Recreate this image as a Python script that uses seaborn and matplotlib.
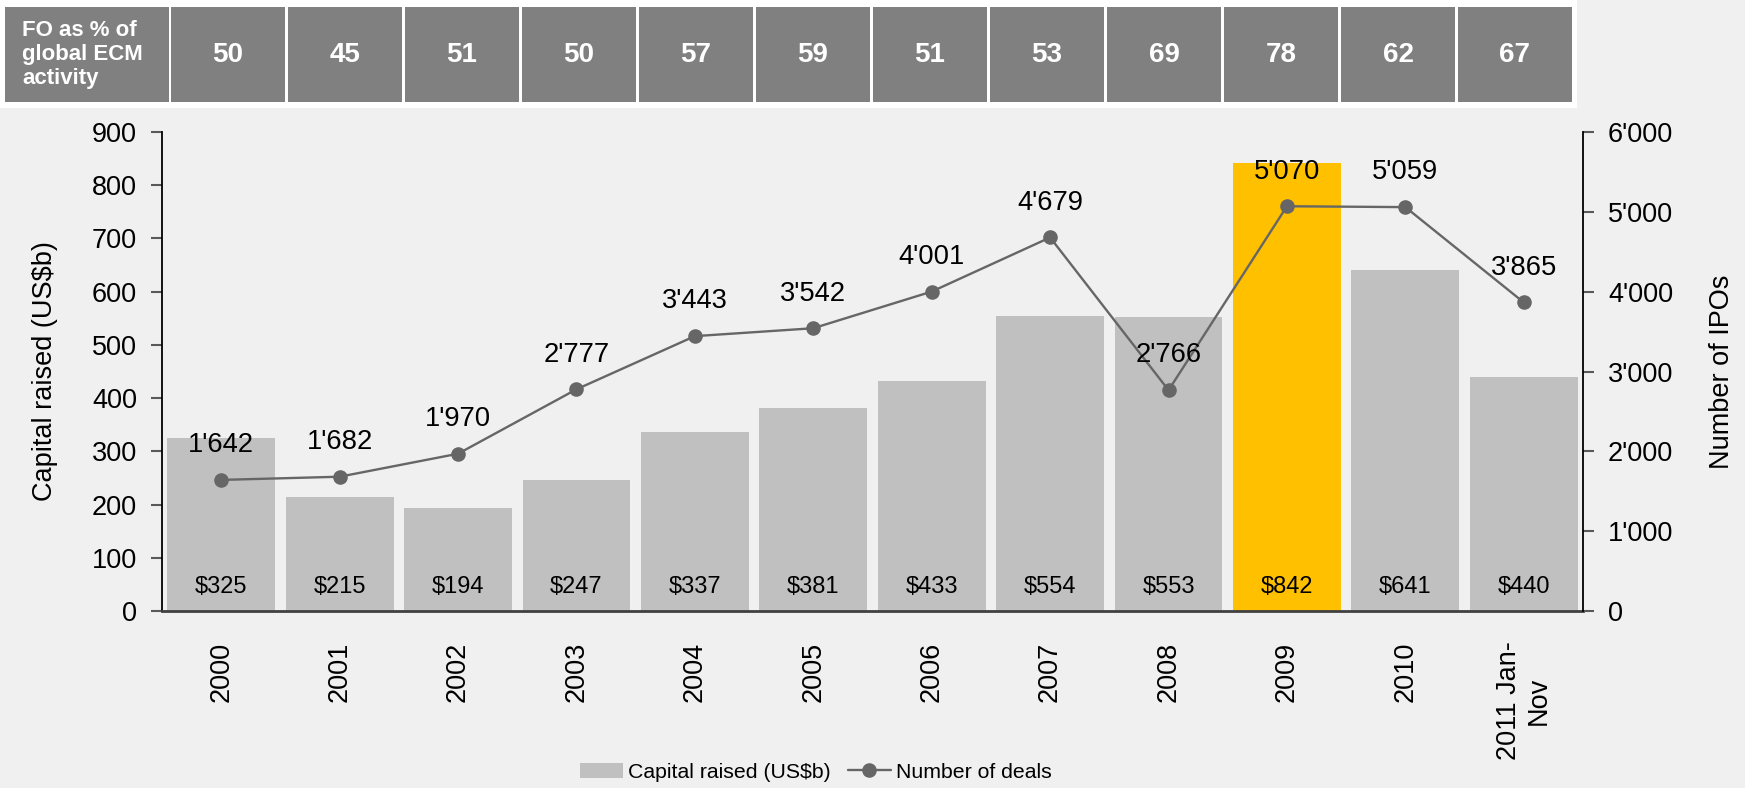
import numpy as np
import pandas as pd
import matplotlib
matplotlib.use("Agg")
import matplotlib.pyplot as plt
import seaborn as sns
from matplotlib.patches import Rectangle, Patch
from matplotlib.lines import Line2D
from matplotlib.ticker import FuncFormatter, MultipleLocator

# ---------------- data ----------------
years = ["2000", "2001", "2002", "2003", "2004", "2005", "2006", "2007",
         "2008", "2009", "2010", "2011 Jan-\nNov"]
capital_raised = [325, 215, 194, 247, 337, 381, 433, 554, 553, 842, 641, 440]
number_of_deals = [1642, 1682, 1970, 2777, 3443, 3542, 4001, 4679, 2766, 5070, 5059, 3865]
fo_share = [50, 45, 51, 50, 57, 59, 51, 53, 69, 78, 62, 67]
highlight_year = "2009"
table_label = "FO as % of\nglobal ECM\nactivity"
bar_legend = "Capital raised (US$b)"
line_legend = "Number of deals"
left_label = "Capital raised (US$b)"
right_label = "Number of IPOs"

# ---------------- style ----------------
sns.set_theme(style="white")
plt.rcParams["font.family"] = ["Liberation Sans", "DejaVu Sans"]

BG = "#f0f0f0"
BAR = "#c0c0c0"
HL = "#ffc000"
LINE = "#666666"
CELL = "#808080"

W, H = 1745, 788
fig = plt.figure(figsize=(W / 100, H / 100), dpi=100, facecolor=BG)

ax = fig.add_axes([162 / W, 1 - 611 / H, 1421 / W, 479 / H])
ax.set_facecolor("none")

df = pd.DataFrame({"year": years, "capital": capital_raised, "deals": number_of_deals})
colors = [HL if y == highlight_year else BAR for y in years]
sns.barplot(data=df, x="year", y="capital", hue="year", palette=colors,
            width=0.91, legend=False, ax=ax, saturation=1, edgecolor="none")

ax2 = ax.twinx()
ax2.set_facecolor("none")
pos = np.arange(len(years))
sns.lineplot(x=pos, y=df["deals"], ax=ax2, color=LINE, marker="o",
             markersize=10.5, linewidth=1.7, markeredgewidth=0)

ax.set_xlim(-0.5, len(years) - 0.5)
ax.set_ylim(0, 900)
ax2.set_ylim(0, 6000)
ax.yaxis.set_major_locator(MultipleLocator(100))
ax2.yaxis.set_major_locator(MultipleLocator(1000))
ax2.yaxis.set_major_formatter(FuncFormatter(lambda v, p: f"{int(v):,}".replace(",", "'")))

# spines
for s in ["top", "right"]:
    ax.spines[s].set_visible(False)
ax.spines["left"].set_color("black")
ax.spines["left"].set_linewidth(1.3)
ax.spines["bottom"].set_color("#404040")
ax.spines["bottom"].set_linewidth(2)
for s in ["top", "left", "bottom"]:
    ax2.spines[s].set_visible(False)
ax2.spines["right"].set_color("black")
ax2.spines["right"].set_linewidth(1.3)

ax.tick_params(axis="y", left=True, direction="out", length=8, width=1.5,
               color="#595959", labelsize=19.5, pad=10, labelcolor="black")
ax2.tick_params(axis="y", right=True, direction="out", length=8, width=1.5,
                color="#595959", labelsize=19.5, pad=10, labelcolor="black")
ax.tick_params(axis="x", bottom=False, labelsize=19.5, pad=16, labelcolor="black")
for lbl in ax.get_xticklabels():
    lbl.set_rotation(90)
    lbl.set_ha("center")
    lbl.set_va("top")
ax.set_xlabel("")
ax.set_ylabel(left_label, fontsize=19.5, color="black")
ax.yaxis.set_label_coords(-0.073, 0.5)
ax2.set_ylabel(right_label, fontsize=19.5, color="black")
ax2.yaxis.set_label_coords(1.089, 0.5)

# bar value labels near the bottom
for i, v in enumerate(capital_raised):
    ax.annotate(f"${v}", xy=(i, 0), xytext=(0, 17.5), textcoords="offset points",
                ha="center", va="center", fontsize=17, color="black")

# line value labels above the points
for i, v in enumerate(number_of_deals):
    ax2.annotate(f"{v:,}".replace(",", "'"), xy=(i, v), xytext=(0, 25),
                 textcoords="offset points", ha="center", va="center",
                 fontsize=19.7, color="black", zorder=5)

# ---------------- top table ----------------
fig.patches.append(Rectangle((0, 1 - 108 / H), 1577 / W, 108 / H,
                             transform=fig.transFigure, facecolor="white",
                             edgecolor="none", zorder=0))
cell_y0 = 1 - 102 / H
cell_h = 95 / H
fig.patches.append(Rectangle((5 / W, cell_y0), 164 / W, cell_h,
                             transform=fig.transFigure, facecolor=CELL,
                             edgecolor="none", zorder=1))
fig.text(22 / W, cell_y0 + cell_h / 2, table_label, color="white",
         fontsize=16, fontweight="bold", ha="left", va="center", linespacing=1.2)
t_left, t_right, gap = 171, 1575, 3
cw = (t_right - t_left) / len(fo_share)
for i, v in enumerate(fo_share):
    x0 = t_left + i * cw
    fig.patches.append(Rectangle((x0 / W, cell_y0), (cw - gap) / W, cell_h,
                                 transform=fig.transFigure, facecolor=CELL,
                                 edgecolor="none", zorder=1))
    fig.text((x0 + (cw - gap) / 2) / W, cell_y0 + cell_h / 2, str(v),
             color="white", fontsize=20, fontweight="bold",
             ha="center", va="center")

# ---------------- legend ----------------
handles = [Patch(facecolor=BAR, edgecolor="none"),
           Line2D([], [], color=LINE, marker="o", markersize=10.5, lw=1.7,
                  markeredgewidth=0)]
fig.legend(handles, [bar_legend, line_legend], loc="center",
           bbox_to_anchor=(816 / W, 1 - 772 / H), ncol=2, frameon=False,
           fontsize=15.3, handlelength=2.0, handleheight=0.7,
           handletextpad=0.25, columnspacing=0.8, labelcolor="black")

fig.savefig("out.png", dpi=100, facecolor=BG)
